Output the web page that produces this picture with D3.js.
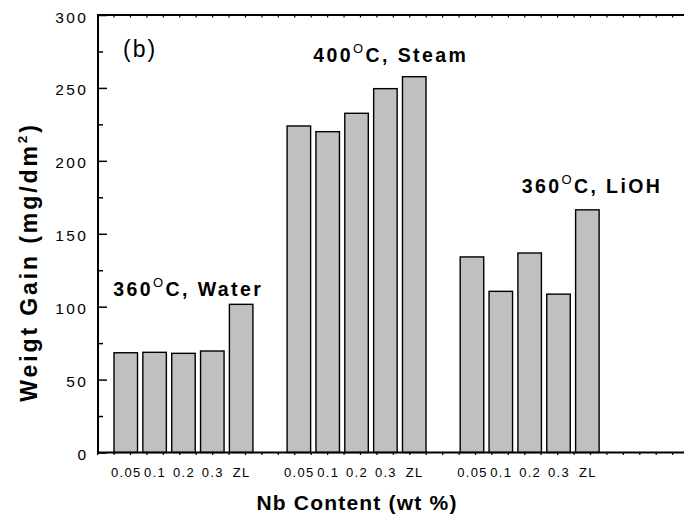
<!DOCTYPE html>
<html>
<head>
<meta charset="utf-8">
<script src="https://cdn.jsdelivr.net/npm/d3@7"></script>
<style>
  html, body { margin: 0; padding: 0; background: #fff; }
  svg { display: block; }
  text { font-family: Arial, "Liberation Sans", Helvetica, sans-serif; fill: #000; }
</style>
</head>
<body>
<svg id="chart" width="684" height="518"></svg>
<script>
// ---- data ----
const categories = ["0.05", "0.1", "0.2", "0.3", "ZL"];
const condTemp = ["360", "400", "360"];
const condMedium = ["Water", "Steam", "LiOH"];
const water = [68.4, 68.7, 68.0, 69.6, 101.6];
const steam = [223.9, 220.0, 232.6, 249.5, 257.7];
const lioh  = [134.1, 110.5, 136.8, 108.6, 166.4];
const yTicks = [0, 50, 100, 150, 200, 250, 300];
const yMinorTicks = [25, 75, 125, 175, 225, 275];

(function () {
const seriesList = [water, steam, lioh];
const bars = [];
seriesList.forEach((vals, g) => {
  vals.forEach((v, i) => bars.push({ group: g, cat: categories[i], slot: g * 6 + i, value: v }));
});

// ---- layout ----
const W = 684, H = 518;
const mLeft = 98, mTop = 15, mBottom = 452.5;
const svg = d3.select("#chart");

const y = d3.scaleLinear().domain([0, 300]).range([mBottom, mTop]);
const x = d3.scaleLinear().domain([0, 16]).range([114, 575.6]);
const barW = (x(1) - x(0)) * 0.815;
const xTickScale = d3.scaleLinear().domain([0, 36]).range([97.6, 97.6 + 36 * 16.43]);

// bars
svg.append("g").selectAll("rect").data(bars).join("rect")
  .attr("x", d => x(d.slot))
  .attr("y", d => y(d.value))
  .attr("width", barW)
  .attr("height", d => y(0) - y(d.value))
  .attr("fill", "#c0c0c0")
  .attr("stroke", "#000")
  .attr("stroke-width", 1.4);

// x tick labels
svg.append("g").selectAll("text").data(bars).join("text")
  .attr("x", d => x(d.slot) + barW / 2 + 0.5)
  .attr("y", 477)
  .attr("text-anchor", "middle")
  .attr("font-size", 13)
  .style("letter-spacing", "1.3px")
  .text(d => d.cat);

// top & bottom axes (minor ticks only)
const tickIdx = d3.range(0, 37).filter(k => xTickScale(k) <= W);
const axTop = svg.append("g");
axTop.append("line").attr("x1", mLeft - 1).attr("x2", W).attr("y1", mTop).attr("y2", mTop)
  .attr("stroke", "#000").attr("stroke-width", 2);
axTop.selectAll("line.t").data(tickIdx).join("line").attr("class", "t")
  .attr("x1", k => xTickScale(k)).attr("x2", k => xTickScale(k))
  .attr("y1", mTop).attr("y2", mTop + 2.5).attr("stroke", "#000").attr("stroke-width", 1.2);

const axBot = svg.append("g");
axBot.append("line").attr("x1", mLeft - 1).attr("x2", W).attr("y1", mBottom).attr("y2", mBottom)
  .attr("stroke", "#000").attr("stroke-width", 2);
axBot.selectAll("line.t").data(tickIdx).join("line").attr("class", "t")
  .attr("x1", k => xTickScale(k)).attr("x2", k => xTickScale(k))
  .attr("y1", mBottom).attr("y2", mBottom + 2.5).attr("stroke", "#000").attr("stroke-width", 1.2);

// left axis
const yAxis = d3.axisRight(y).tickValues(yTicks).tickSize(9).tickFormat("");
const gy = svg.append("g").attr("transform", `translate(${mLeft},0)`).call(yAxis);
gy.select(".domain").remove();
gy.selectAll(".tick line").attr("stroke", "#000").attr("stroke-width", 1.5);
const gyMinor = svg.append("g").attr("transform", `translate(${mLeft},0)`)
  .call(d3.axisRight(y).tickValues(yMinorTicks).tickSize(5).tickFormat(""));
gyMinor.select(".domain").remove();
gyMinor.selectAll(".tick line").attr("stroke", "#000").attr("stroke-width", 1.5);
svg.append("line").attr("x1", mLeft).attr("x2", mLeft).attr("y1", mTop - 1).attr("y2", mBottom + 1)
  .attr("stroke", "#000").attr("stroke-width", 2);

svg.append("g").selectAll("text").data(yTicks).join("text")
  .attr("x", 88.5)
  .attr("y", d => y(d) + 7.5)
  .attr("text-anchor", "end")
  .attr("font-size", 15.5)
  .style("letter-spacing", "2.5px")
  .text(d => d);

// axis titles
svg.append("text")
  .attr("x", 357).attr("y", 510)
  .attr("text-anchor", "middle")
  .attr("font-size", 21).attr("font-weight", "bold")
  .style("letter-spacing", "1.2px")
  .text("Nb Content (wt %)");

const yt = svg.append("text")
  .attr("transform", "translate(37,262) rotate(-90)")
  .attr("text-anchor", "middle")
  .attr("font-size", 23).attr("font-weight", "bold")
  .style("letter-spacing", "2.9px");
yt.append("tspan").text("Weigt Gain (mg/dm");
yt.append("tspan").attr("font-size", 13.5).attr("dy", -10).text("2");
yt.append("tspan").attr("dy", 10).text(")");

// panel label
svg.append("text").attr("x", 123).attr("y", 57)
  .attr("font-size", 23).style("letter-spacing", "2px").text("(b)");

// condition labels
const condPos = [[113.3, 296], [313.3, 61.7], [521.7, 192.7]];
condTemp.forEach((t, g) => {
  const tx = svg.append("text")
    .attr("x", condPos[g][0]).attr("y", condPos[g][1])
    .attr("font-size", 19.5).attr("font-weight", "bold")
    .style("letter-spacing", "2.4px");
  tx.append("tspan").text(t);
  tx.append("tspan").attr("font-size", 13).attr("font-weight", "normal").attr("dy", -9).text("O");
  tx.append("tspan").attr("dy", 9).text("C, " + condMedium[g]);
});
})();
</script>
</body>
</html>
